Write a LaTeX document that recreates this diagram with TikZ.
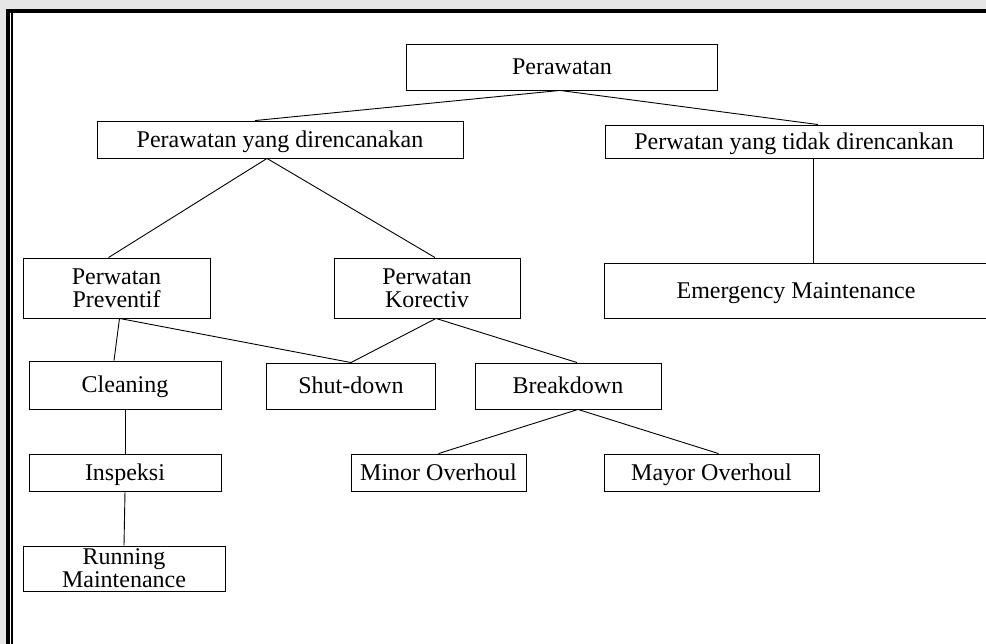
\documentclass[tikz,border=0pt]{standalone}
\usepackage{fontspec}
\setmainfont{Liberation Serif}
\usetikzlibrary{positioning,calc}
\definecolor{pinggir}{HTML}{E6E6E6}
\tikzset{
    every node/.style={font=\fontsize{24}{23}\selectfont},
    kotak/.style={draw, line width=0.9pt, inner sep=0pt, align=center},
    satu/.style={kotak, text height=16pt, text depth=0pt},
    garis/.style={line width=0.9pt}
}

\begin{document}
\begin{tikzpicture}[x=1pt,y=-1pt]
    \useasboundingbox (0,0) rectangle (986,644);
    \fill[pinggir] (0,0) rectangle (986,9);
    \fill[pinggir] (0,0) rectangle (6,644);
    \draw[line width=4pt] (8,644) -- (8,11) -- (986,11);
    \draw[line width=1.5pt] (11.8,13) -- (11.8,644);

    \node[satu, minimum width=311pt, minimum height=46pt] (rawat) at (562,67) {Perawatan};
    \node[satu, minimum width=366pt, minimum height=37pt] (rencana) at (280,139.5) {Perawatan yang direncanakan};
    \node[satu, minimum width=378pt, minimum height=33pt] (tidak) at (794,141.5) {Perwatan yang tidak direncankan};
    \node[satu, minimum width=384pt, minimum height=55pt] (darurat) at (796,290.5) {Emergency Maintenance};
    \node[kotak, minimum width=187pt, minimum height=60pt] (preventif) at (116.5,288) {Perwatan\\Preventif};
    \node[kotak, minimum width=186pt, minimum height=60pt] (korektif) at (427,288) {Perwatan\\Korectiv};
    \node[satu, minimum width=192pt, minimum height=48pt] (cleaning) at (125,385) {Cleaning};
    \node[satu, minimum width=169pt, minimum height=46pt] (shutdown) at (351,386) {Shut-down};
    \node[satu, minimum width=186pt, minimum height=46pt] (breakdown) at (568,386) {Breakdown};
    \node[satu, minimum width=192pt, minimum height=37pt] (inspeksi) at (125,472.5) {Inspeksi};
    \node[satu, minimum width=175pt, minimum height=37pt] (minor) at (438.5,472.5) {Minor Overhoul};
    \node[satu, minimum width=215pt, minimum height=37pt] (mayor) at (711.5,472.5) {Mayor Overhoul};
    \node[kotak, minimum width=202pt, minimum height=45pt] (running) at (124,568.5) {Running\\Maintenance};

    \draw[garis] ([xshift=-2pt]rawat.south) -- ([xshift=-25pt]rencana.north);
    \draw[garis] ([xshift=-2pt]rawat.south) -- ([xshift=24pt]tidak.north);
    \draw[garis] ([xshift=19pt]tidak.south) -- ([xshift=17pt]darurat.north);
    \draw[garis] ([xshift=-13pt]rencana.south) -- ([xshift=-8pt]preventif.north);
    \draw[garis] ([xshift=-13pt]rencana.south) -- ([xshift=8pt]korektif.north);
    \draw[garis] ([xshift=3pt]preventif.south) -- ([xshift=-11pt]cleaning.north);
    \draw[garis] ([xshift=3pt]preventif.south) -- (shutdown.north);
    \draw[garis] ([xshift=9pt]korektif.south) -- (shutdown.north);
    \draw[garis] ([xshift=9pt]korektif.south) -- ([xshift=9pt]breakdown.north);
    \draw[garis] (cleaning.south) -- (inspeksi.north);
    \draw[garis] (inspeksi.south) -- (running.north);
    \draw[garis] ([xshift=10pt]breakdown.south) -- (minor.north);
    \draw[garis] ([xshift=10pt]breakdown.south) -- ([xshift=7pt]mayor.north);
\end{tikzpicture}
\end{document}
